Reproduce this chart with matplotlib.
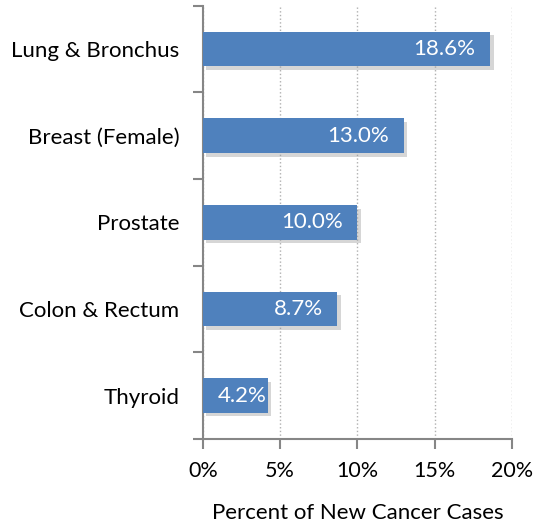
import matplotlib.pyplot as plt
import matplotlib.patheffects as pe
from matplotlib.ticker import FuncFormatter, MultipleLocator

plt.rcParams['font.family'] = ['Lato', 'DejaVu Sans']

categories = ["Lung & Bronchus", "Breast (Female)", "Prostate", "Colon & Rectum", "Thyroid"]
values = [18.6, 13.0, 10.0, 8.7, 4.2]
labels = ["18.6%", "13.0%", "10.0%", "8.7%", "4.2%"]

fig = plt.figure(figsize=(5.37, 5.27), dpi=100)
ax = fig.add_axes([0.378, 0.167, 0.575, 0.822])

ypos = list(range(len(categories)))[::-1]
bars = ax.barh(ypos, values, height=0.4, color="#4F81BD", zorder=3)
for b in bars:
    b.set_path_effects([pe.SimplePatchShadow(offset=(2.5, -2.5), shadow_rgbFace="#999999", alpha=0.4),
                        pe.Normal()])

# labels sit inside the bar end; the short bar gets pushed to the edge like Excel does
for y, v, lab in zip(ypos, values, labels):
    inset = 0.95 if v > 5 else 0.1
    ax.text(v - inset, y, lab, ha="right", va="center", color="white", fontsize=16, zorder=4)

ax.set_xlim(0, 20)
ax.set_ylim(-0.5, 4.5)
ax.xaxis.set_major_locator(MultipleLocator(5))
ax.xaxis.set_major_formatter(FuncFormatter(lambda x, p: f"{x:.0f}%"))
ax.set_yticks(ypos)
ax.set_yticklabels(categories)
ax.set_yticks([i - 0.5 for i in range(6)], minor=True)
ax.tick_params(axis="y", which="major", length=0, pad=17, labelsize=16)
ax.tick_params(axis="y", which="minor", length=7, width=1.5, color="#868686")
ax.tick_params(axis="x", length=7, width=1.5, color="#868686", labelsize=15.5, pad=9)
ax.grid(axis="x", linestyle=":", color="#B0B0B0", linewidth=1, zorder=0)

for s in ["top", "right"]:
    ax.spines[s].set_visible(False)
for s in ["left", "bottom"]:
    ax.spines[s].set_color("#868686")
    ax.spines[s].set_linewidth(1.5)

ax.set_xlabel("Percent of New Cancer Cases", fontsize=16, labelpad=16)

fig.savefig("out.png", dpi=100)
